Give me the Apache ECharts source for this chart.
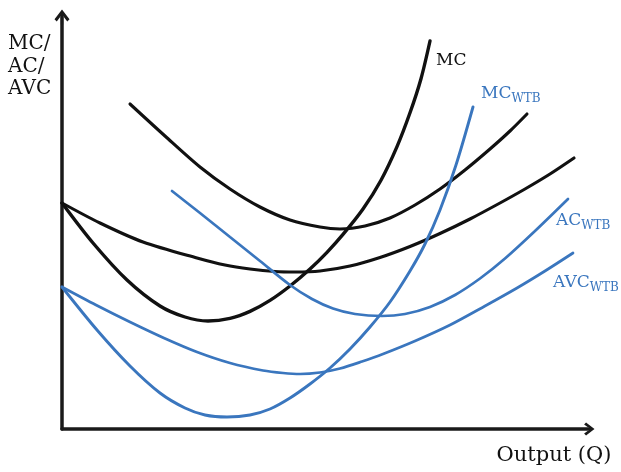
<!DOCTYPE html>
<html>
<head>
<meta charset="utf-8">
<script src="https://cdn.jsdelivr.net/npm/echarts@6/dist/echarts.min.js"></script>
<style>
  html, body { margin: 0; padding: 0; background: #ffffff; }
  #chart { width: 621px; height: 472px; }
</style>
</head>
<body>
<div id="chart"></div>
<script>
// Conceptual cost curves: [output, cost] in chart units (no numeric scale on axes)
const mcBlack  = [[0,226],[31,186],[65,149],[98,123],[123,112],[146,108],[168,110.6],[188,117.6],[208,128.6],[228,143],[248,160],[265,176.7],[281,194.6],[301,220],[319,248.8],[335,282.4],[348,316.2],[359,350.3],[368,388]];
const acBlack  = [[68,325],[103,293],[138,262],[168,240],[198,222],[228,209],[258,202],[278,200],[303,203],[328,211],[353,224],[378,240],[403,259],[428,280],[448,298],[465,315]];
const avcBlack = [[0,226],[38,206],[81,187],[135,171],[163,164],[188,160],[213,157.5],[233,157],[258,158],[288,163],[318,171.5],[348,182.5],[378,195.5],[408,210],[438,226],[463,240],[488,255],[512,271]];
const mcWTB    = [[0,142],[35,99],[68,63],[98,36],[123,21],[143,14],[165,12],[188,14],[208,20],[228,31],[248,45],[268,61],[288,80],[308,102],[328,127],[348,158],[363,185],[378,219],[394,264],[411,322]];
const acWTB    = [[110,238],[138,216],[168,192],[198,168],[228,144],[250,130],[271,120.5],[293,115],[320,113],[343,115],[368,122],[393,134],[418,150.5],[443,170.5],[473,198],[506,230]];
const avcWTB   = [[0,142],[34,124],[68,107],[103,90.5],[135,77],[168,66],[201,58.5],[221,56],[238,55],[258,56.5],[278,60.5],[300,67.5],[321,75],[353,88],[388,104],[423,123],[455,141],[483,158],[511,176]];

const yTitle = ['MC/', 'AC/', 'AVC'];
const xTitle = 'Output (Q)';
const curveLabels = { mc: 'MC', mcWTB: ['MC', 'WTB'], acWTB: ['AC', 'WTB'], avcWTB: ['AVC', 'WTB'] };

const BLACK = '#111111';
const BLUE = '#3a76be';
const FONT = 'DejaVu Serif';
const chevron = 'path://M10,0 L20,13 L17,16 L11.5,8.5 L11.5,20 L8.5,20 L8.5,8.5 L3,16 L0,13 Z';

function subLabel(parts, offset) {
  return {
    show: true,
    distance: 0,
    offset: offset,
    formatter: '{m|' + parts[0] + '}{s|' + parts[1] + '}',
    rich: {
      m: { fontFamily: FONT, fontSize: 17, lineHeight: 22, color: BLUE },
      s: { fontFamily: FONT, fontSize: 12, color: BLUE, verticalAlign: 'bottom' }
    }
  };
}

function curve(name, data, color, width, endLabel) {
  const s = {
    name: name,
    type: 'line',
    data: data,
    smooth: 0.3,
    symbol: 'none',
    silent: true,
    lineStyle: { color: color, width: width, cap: 'round' },
    z: color === BLACK ? 3 : 4
  };
  if (endLabel) s.endLabel = endLabel;
  return s;
}

const chart = echarts.init(document.getElementById('chart'), null, { renderer: 'canvas' });
chart.setOption({
  animation: false,
  backgroundColor: '#ffffff',
  grid: { left: 62, right: 33, top: 17, bottom: 43, containLabel: false },
  xAxis: {
    type: 'value', min: 0, max: 526,
    axisLine: { show: true, onZero: false, symbol: ['none', chevron], symbolSize: [13, 13],
                lineStyle: { color: '#1a1a1a', width: 3.5 } },
    axisTick: { show: false }, axisLabel: { show: false }, splitLine: { show: false }
  },
  yAxis: {
    type: 'value', min: 0, max: 412,
    axisLine: { show: true, onZero: false, symbol: ['none', chevron], symbolSize: [15, 15],
                lineStyle: { color: '#1a1a1a', width: 3.5 } },
    axisTick: { show: false }, axisLabel: { show: false }, splitLine: { show: false }
  },
  graphic: [
    { type: 'text', left: 8, top: 33, silent: true,
      style: { text: yTitle.join('\n'), font: '20px "' + FONT + '"', lineHeight: 22.5, fill: BLACK } },
    { type: 'text', x: 554, y: 456, silent: true,
      style: { text: xTitle, font: '21px "' + FONT + '"', fill: BLACK, align: 'center', verticalAlign: 'middle' } }
  ],
  series: [
    curve('MC', mcBlack, BLACK, 3.4, {
      show: true, distance: 0, offset: [6, 20], formatter: curveLabels.mc,
      fontFamily: FONT, fontSize: 17, color: BLACK
    }),
    curve('AC', acBlack, BLACK, 3.1),
    curve('AVC', avcBlack, BLACK, 3.1),
    curve('MC_WTB', mcWTB, BLUE, 2.9, subLabel(curveLabels.mcWTB, [8, -13])),
    curve('AC_WTB', acWTB, BLUE, 2.7, subLabel(curveLabels.acWTB, [-12, 22])),
    curve('AVC_WTB', avcWTB, BLUE, 2.7, subLabel(curveLabels.avcWTB, [-20, 30]))
  ]
});
</script>
</body>
</html>
